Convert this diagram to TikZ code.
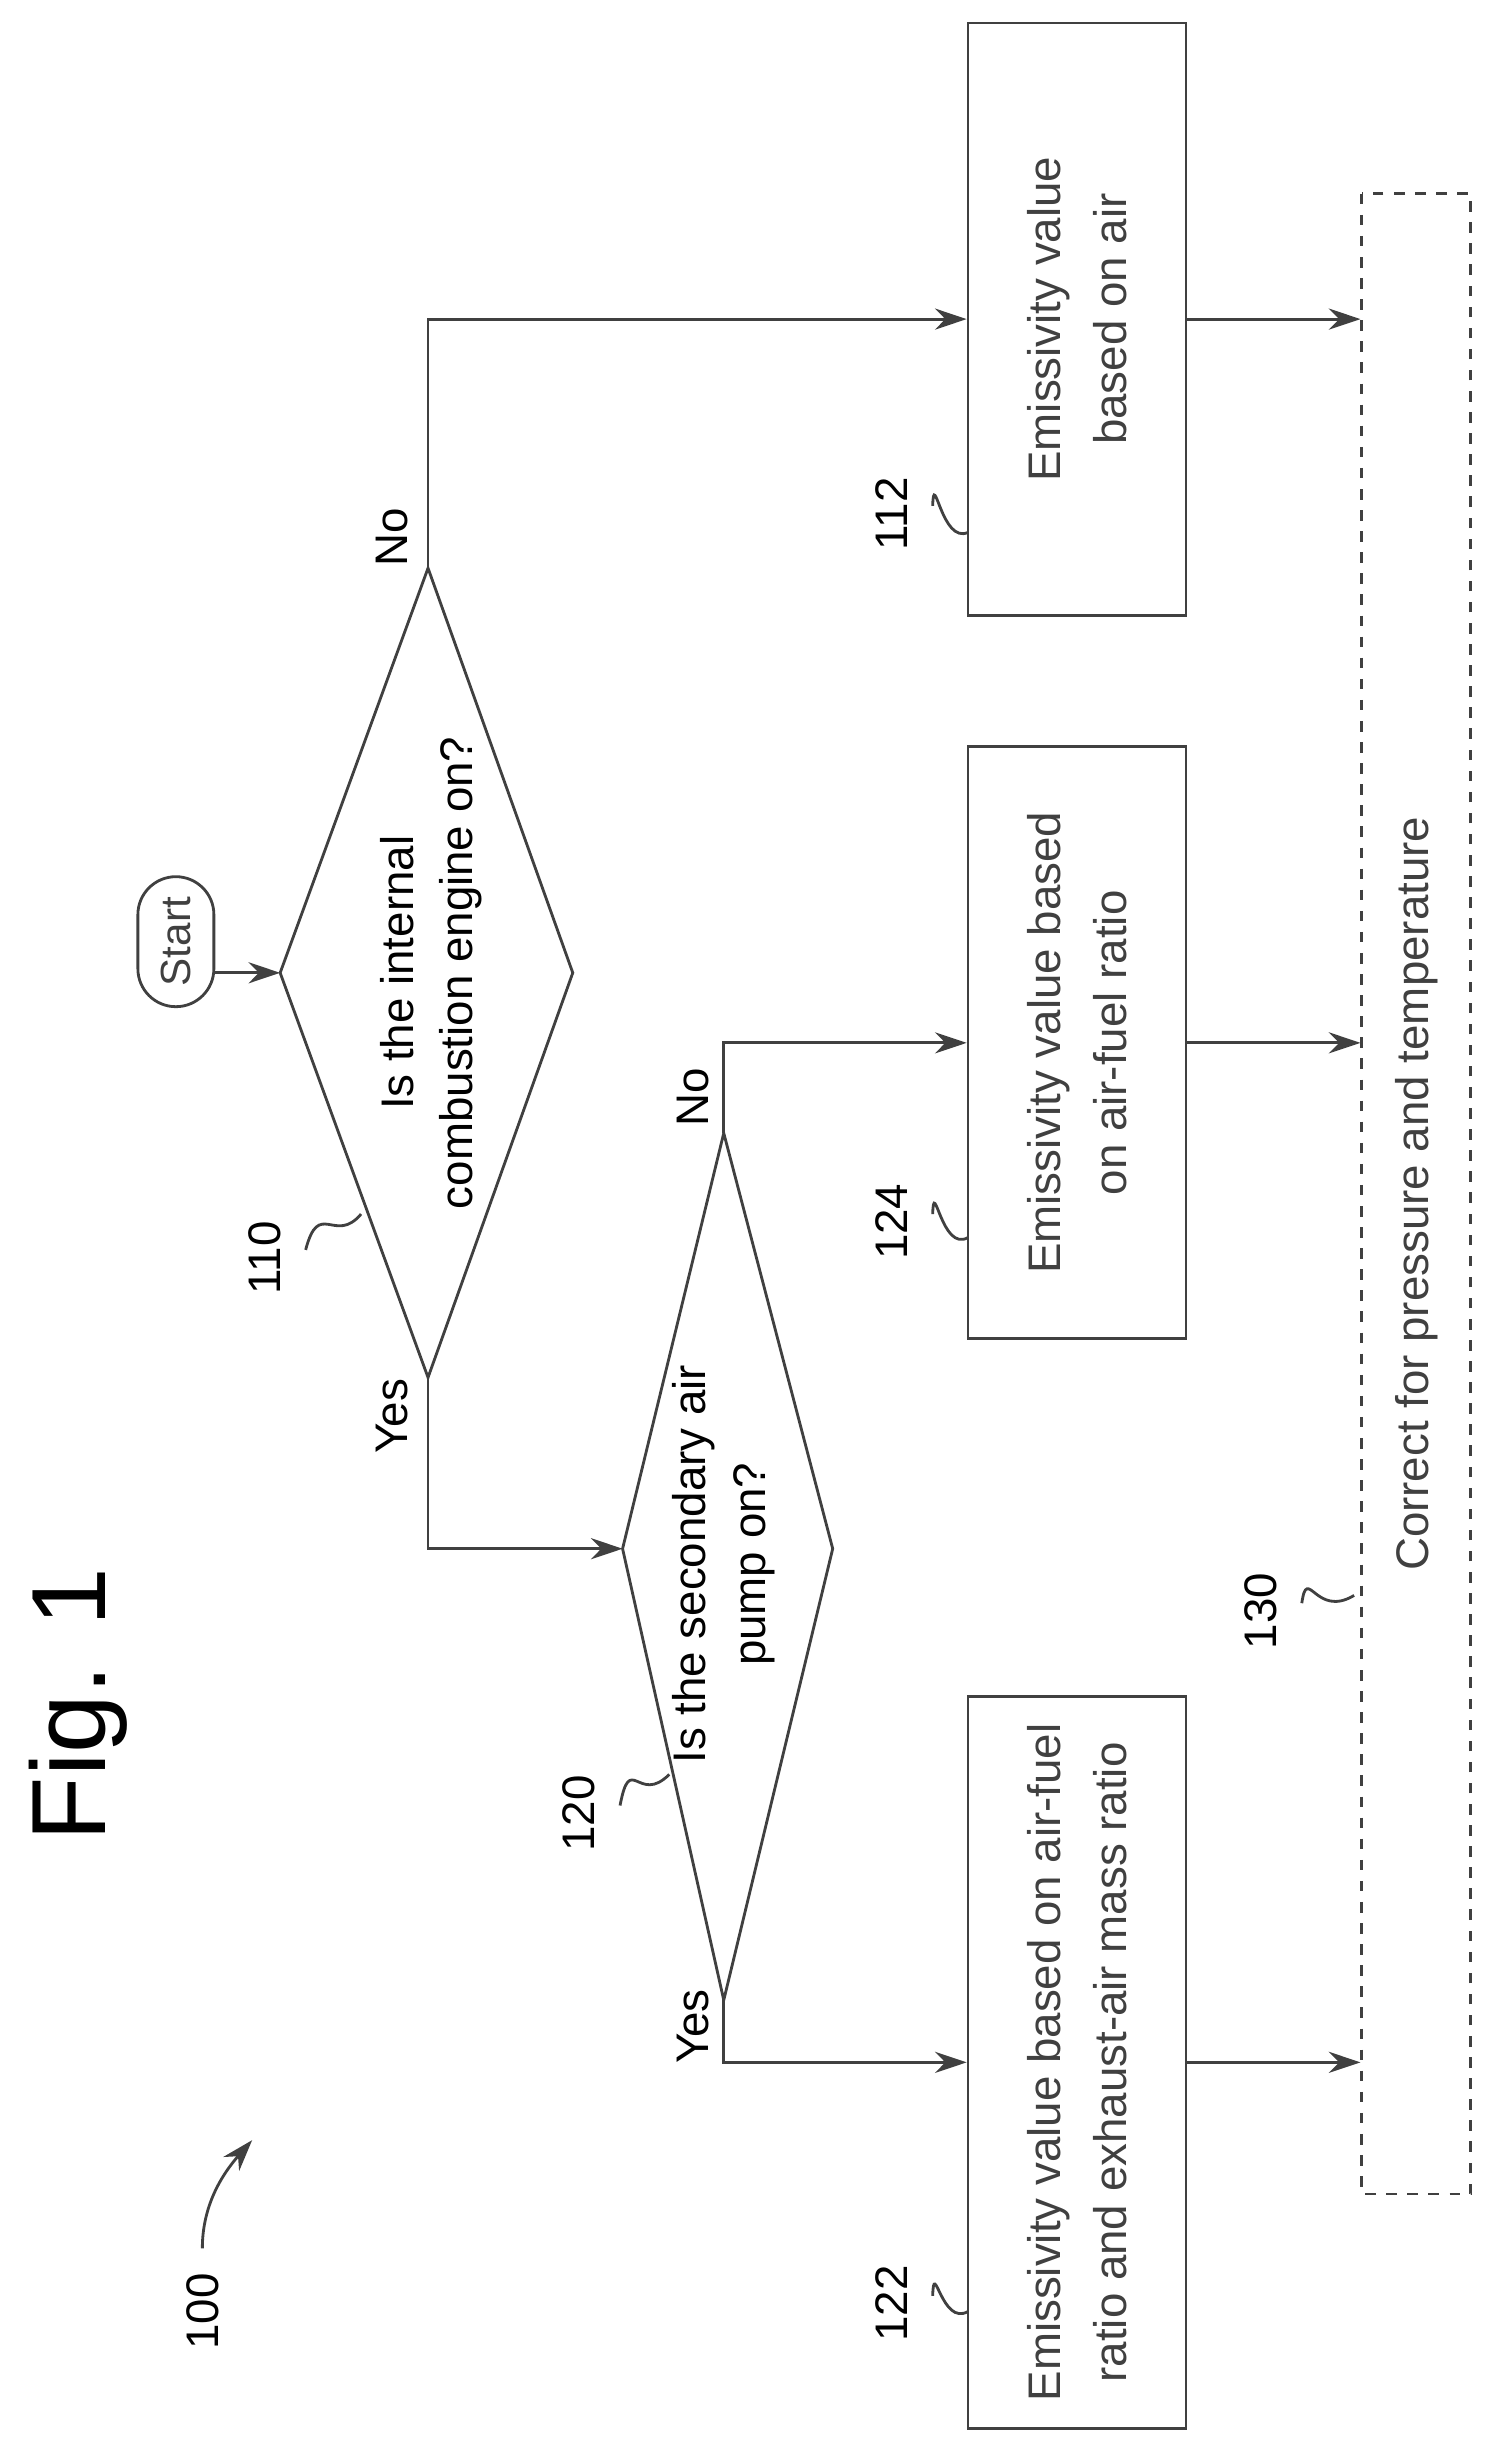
\documentclass[tikz,border=0pt]{standalone}
\usepackage{fontspec}
\setmainfont{Liberation Sans}
\usetikzlibrary{arrows.meta}
\begin{document}
\begin{tikzpicture}[x=0.01557cm,y=-0.01557cm,
  line/.style={thick,color=black!75},
  arr/.style={line,-{Stealth[length=9pt,width=6pt]}},
  box/.style={draw,line,rotate=90,align=center,font=\fontsize{13}{19}\selectfont,inner sep=2pt},
  txt/.style={rotate=90,font=\fontsize{13}{17}\selectfont,align=center},
  ref/.style={rotate=90,font=\fontsize{13}{15}\selectfont}]
  \useasboundingbox (0,0) rectangle (960,1576);

  \node[txt,font=\fontsize{30}{36}\selectfont] (fig) at (50,1095) {Fig. 1};

  % start
  \node[box,rounded corners=0.38cm,minimum width=1.3cm,minimum height=0.76cm,inner sep=0pt,font=\fontsize{12}{14}\selectfont] (start) at (113,605) {Start};

  % decision 110
  \coordinate (d1l) at (180,625); \coordinate (d1r) at (368,625);
  \coordinate (d1t) at (275,365); \coordinate (d1b) at (275,885);
  \draw[line] (d1l) -- (d1t) -- (d1r) -- (d1b) -- cycle;
  \node[txt] (q1) at (277,625) {Is the internal\\combustion engine on?};

  % decision 120
  \coordinate (d2l) at (400,995); \coordinate (d2r) at (535,995);
  \coordinate (d2t) at (465,728); \coordinate (d2b) at (465,1285);
  \draw[line] (d2l) -- (d2t) -- (d2r) -- (d2b) -- cycle;
  \node[txt] (q2) at (465,1005) {Is the secondary air\\pump on?};

  % boxes
  \node[box,minimum width=5.92cm,minimum height=2.18cm] (b112) at (692,205) {Emissivity value\\based on air};
  \node[box,minimum width=5.92cm,minimum height=2.18cm] (b124) at (692,670) {Emissivity value based\\on air-fuel ratio};
  \node[box,minimum width=7.32cm,minimum height=2.18cm] (b122) at (692,1325) {Emissivity value based on air-fuel\\ratio and exhaust-air mass ratio};
  \node[box,dashed,minimum width=20cm,minimum height=1.09cm] (b130) at (910,767) {Correct for pressure and temperature};

  % connectors
  \draw[arr] (start.south |- d1l) -- (d1l);
  \draw[arr] (d1t) |- (b112.north);
  \draw[arr] (d1b) |- (d2l);
  \draw[arr] (d2t) |- (b124.north);
  \draw[arr] (d2b) |- (b122.north);
  \draw[arr] (b112.south) -- (b112.south -| b130.north);
  \draw[arr] (b124.south) -- (b124.south -| b130.north);
  \draw[arr] (b122.south) -- (b122.south -| b130.north);

  % branch labels
  \node[txt] (no1) at (252,345) {No};
  \node[txt] (yes1) at (252,910) {Yes};
  \node[txt] (no2) at (445,705) {No};
  \node[txt] (yes2) at (445,1302) {Yes};

  % reference numerals
  \node[ref] (r110) at (170,808) {110};
  \draw[line] (r110.south) ++(8,-5) .. controls (205,770) and (215,800) .. (232,780);
  \node[ref] (r112) at (573,330) {112};
  \draw[line] (r112.south) ++(8,-5) .. controls (600,300) and (605,350) .. (622,342);
  \node[ref] (r124) at (573,785) {124};
  \draw[line] (r124.south) ++(8,-5) .. controls (600,755) and (605,805) .. (622,795);
  \node[ref] (r120) at (372,1165) {120};
  \draw[line] (r120.south) ++(8,-5) .. controls (405,1125) and (410,1160) .. (430,1140);
  \node[ref] (r122) at (573,1480) {122};
  \draw[line] (r122.south) ++(8,-5) .. controls (600,1450) and (605,1495) .. (622,1485);
  \node[ref] (r130) at (810,1035) {130};
  \draw[line] (r130.south) ++(8,-5) .. controls (840,1005) and (845,1040) .. (870,1025);
  \node[ref] (r100) at (130,1485) {100};
  \draw[arr] (r100.east) ++(0,-8) .. controls (130,1420) and (140,1400) .. (162,1375);
\end{tikzpicture}
\end{document}
